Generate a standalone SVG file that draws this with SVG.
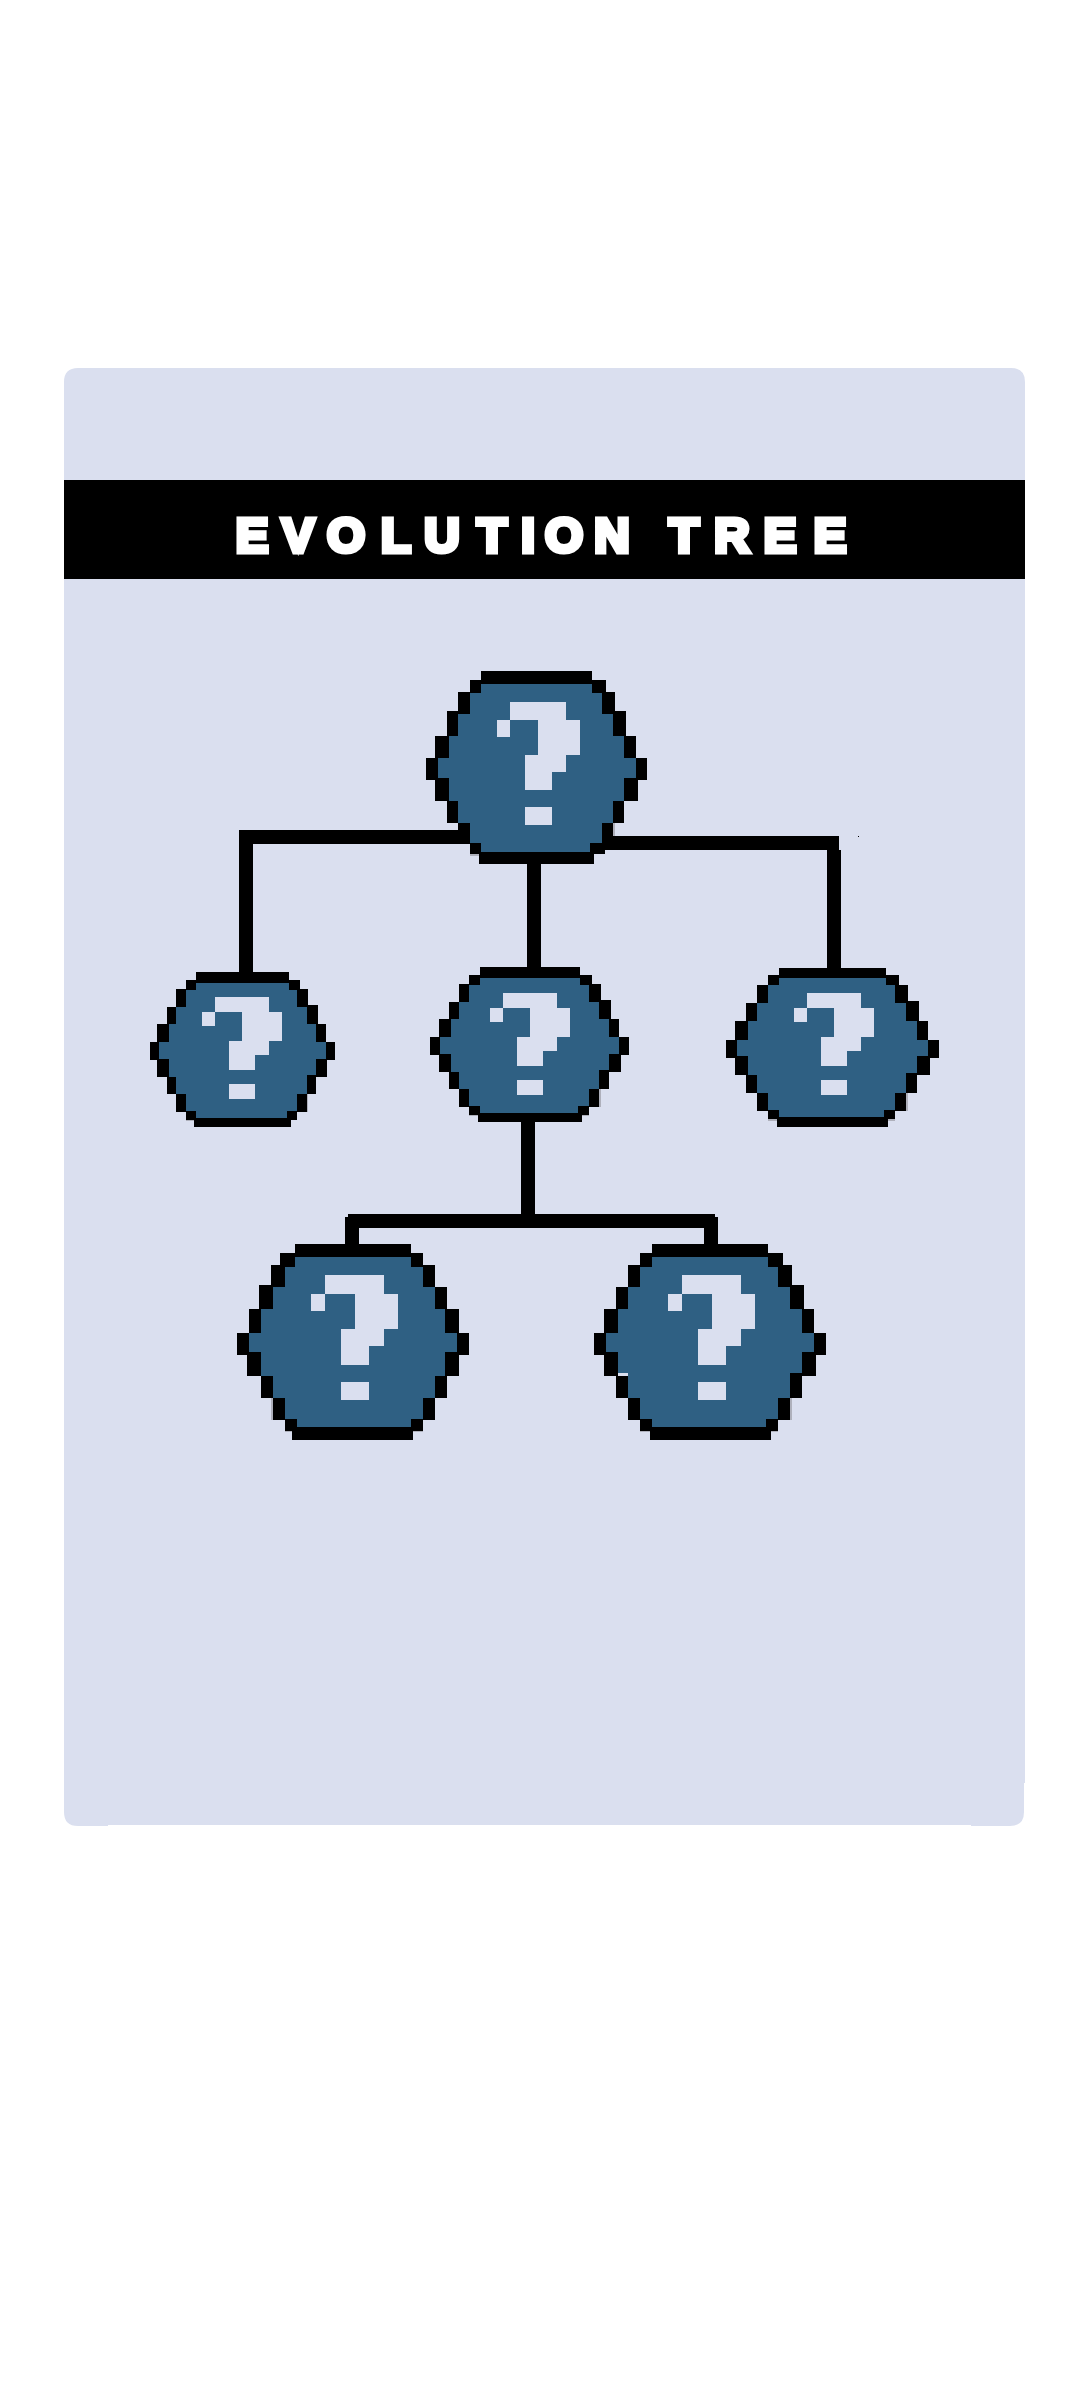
<svg xmlns="http://www.w3.org/2000/svg" width="1080" height="2400" viewBox="0 0 1080 2400">
<style>
.k{fill:#000;shape-rendering:crispEdges}
.b{fill:#2f6083;shape-rendering:crispEdges}
.p{fill:#dadfef;shape-rendering:crispEdges}
.g{fill:#aeb0bb;shape-rendering:crispEdges}
.t{font-family:"Liberation Sans",Arial,sans-serif;font-weight:700;font-size:49px;fill:#fff;stroke:#fff;stroke-width:5px;stroke-linejoin:miter;text-anchor:middle}
</style>
<rect width="1080" height="2400" fill="#fff"/>
<path id="panel" fill="#dadfef" d="M78 368H1011Q1025 368 1025 382V1783H1024V1812Q1024 1826 1010 1826H971V1825H108V1826H78Q64 1826 64 1812V382Q64 368 78 368Z"/>
<g id="title">
<rect class="k" x="64" y="480" width="961" height="99"/>
<text class="t" y="551.5" x="252 298 346 396 442 492 528 564 612 648 684 732 780 830">EVOLUTION TREE</text>
</g>
<g id="connectors">
<rect class="k" x="239" y="830" width="232" height="14"/>
<rect class="k" x="239" y="830" width="14" height="143"/>
<rect class="k" x="601" y="836" width="238" height="14"/>
<rect class="k" x="827" y="850" width="14" height="119"/>
<rect class="k" x="858" y="836" width="1" height="1"/>
<rect class="k" x="527" y="862" width="14" height="107"/>
<rect class="k" x="521" y="1120" width="14" height="96"/>
<rect class="k" x="348" y="1214" width="367" height="14"/>
<rect class="k" x="345" y="1217" width="14" height="28"/>
<rect class="k" x="704" y="1217" width="14" height="28"/>
</g>
<g id="node-root" transform="translate(400 650) scale(.33333)">
<path class="g" d="M639 519H645V558H639ZM210 612H237V618H210Z"/>
<path class="b" d="M243 102H576V129H606V192H639V258H672V324H708V387H672V453H639V519H606V579H570V606H243V579H210V519H174V453H147V387H114V324H147V258H174V192H210V129H243Z"/>
<path class="k" d="M243 63H576V102H243ZM210 90H243V129H210ZM576 90H618V129H576ZM174 126H210V192H174ZM606 126H645V192H606ZM141 183H174V258H141ZM639 183H678V258H639ZM105 258H147V324H105ZM672 258H708V324H672ZM78 324H114V390H78ZM708 324H741V390H708ZM105 384H147V453H105ZM672 384H714V453H672ZM141 453H174V519H141ZM639 453H672V519H639ZM174 519H210V579H174ZM606 519H639V579H606ZM210 579H243V612H210ZM570 579H615V612H570ZM237 606H582V642H237Z"/>
<path class="p" d="M330 156H498V210H540V315H498V366H456V420H375V315H414V210H330ZM291 210H330V261H291ZM375 471H456V525H375Z"/>
</g>
<g id="node-left" transform="translate(130 940) scale(.33333)">
<path class="g" d="M531 462H534V516H531ZM168 540H192V543H168Z"/>
<path class="b" d="M198 129H477V150H501V201H531V252H558V306H588V357H558V411H531V462H501V513H471V534H198V513H168V462H138V411H117V357H87V306H117V252H138V201H168V150H198Z"/>
<path class="k" d="M198 96H477V129H198ZM168 120H198V150H168ZM477 120H510V150H477ZM138 147H168V201H138ZM501 147H534V201H501ZM111 201H138V252H111ZM531 195H564V252H531ZM81 252H117V306H81ZM558 252H588V306H558ZM60 306H87V360H60ZM588 306H615V360H588ZM81 357H117V411H81ZM558 357H591V411H558ZM111 411H138V462H111ZM531 405H558V462H531ZM138 462H168V516H138ZM501 462H531V516H501ZM168 513H198V540H168ZM471 513H501V540H471ZM192 534H483V561H192Z"/>
<path class="p" d="M255 171H417V216H456V303H417V345H375V390H297V303H336V216H255ZM216 216H255V258H216ZM297 432H375V477H297Z"/>
</g>
<g id="node-middle" transform="translate(420 940) scale(.33333)">
<path class="g" d="M537 447H543V501H537ZM147 525H174V528H147ZM486 525H507V528H486Z"/>
<path class="b" d="M180 114H480V135H507V186H537V237H567V291H597V342H567V396H537V447H507V498H474V519H180V498H147V447H117V396H93V342H60V291H93V237H117V186H147V135H180Z"/>
<path class="k" d="M180 81H480V114H180ZM147 105H180V135H147ZM480 105H516V135H480ZM117 132H147V186H117ZM507 132H543V186H507ZM87 186H117V237H87ZM537 180H573V237H537ZM57 237H93V291H57ZM567 237H597V291H567ZM30 291H60V345H30ZM597 291H627V345H597ZM57 342H93V396H57ZM567 342H603V396H567ZM87 396H117V447H87ZM537 390H567V447H537ZM117 447H147V501H117ZM507 447H537V501H507ZM147 498H180V525H147ZM474 498H507V525H474ZM174 519H486V546H174Z"/>
<path class="p" d="M249 159H411V204H450V291H411V333H369V378H291V291H330V204H249ZM210 204H249V246H210ZM291 420H369V465H291Z"/>
</g>
<g id="node-right" transform="translate(720 940) scale(.33333)">
<path class="g" d="M558 459H564V513H558ZM144 537H171V543H144ZM504 537H525V543H504Z"/>
<path class="b" d="M177 114H498V135H525V189H558V243H591V300H624V351H591V405H558V459H525V510H492V531H177V510H144V459H111V405H84V351H51V300H84V243H111V189H144V135H177Z"/>
<path class="k" d="M177 84H498V114H177ZM144 105H177V135H144ZM498 105H537V135H498ZM111 135H144V189H111ZM525 135H564V189H525ZM78 189H111V243H78ZM558 183H597V243H558ZM45 243H84V300H45ZM591 243H624V300H591ZM18 300H51V354H18ZM624 300H657V354H624ZM45 348H84V405H45ZM591 348H630V405H591ZM78 405H111V459H78ZM558 399H591V459H558ZM111 459H144V513H111ZM525 459H558V513H525ZM144 510H177V537H144ZM492 510H525V537H492ZM171 531H504V561H171Z"/>
<path class="p" d="M261 159H423V204H462V291H423V333H381V378H303V291H342V204H261ZM222 204H261V246H222ZM303 420H381V465H303Z"/>
</g>
<g id="node-child-left" transform="translate(220 1200) scale(.33333)">
<path class="g" d="M153 594H159V660H153ZM195 690H216V696H195ZM579 690H609V696H579Z"/>
<path class="b" d="M225 171H573V201H609V261H645V327H675V399H711V459H675V528H645V594H609V657H573V681H231V657H195V594H159V528H123V459H87V399H123V327H159V261H195V201H225Z"/>
<path class="k" d="M225 132H573V171H225ZM180 159H225V201H180ZM573 159H609V201H573ZM153 195H195V261H153ZM609 195H645V261H609ZM117 255H159V327H117ZM645 261H681V327H645ZM87 327H123V399H87ZM675 327H717V399H675ZM51 399H87V465H51ZM711 399H747V465H711ZM81 456H123V528H81ZM675 456H717V528H675ZM123 528H159V594H123ZM645 528H681V594H645ZM159 594H195V660H159ZM609 594H645V660H609ZM195 657H231V693H195ZM573 657H609V693H573ZM216 681H579V720H216Z"/>
<path class="p" d="M315 225H492V282H534V387H492V438H447V495H363V387H405V282H315ZM273 282H315V333H273ZM363 546H447V600H363Z"/>
</g>
<g id="node-child-right" transform="translate(580 1200) scale(.33333)">
<path class="g" d="M630 594H636V660H630ZM180 690H210V696H180ZM573 690H594V696H573Z"/>
<path class="b" d="M216 171H564V201H594V261H630V327H666V399H702V459H666V519H630V594H594V657H558V681H216V657H180V594H144V519H114V459H78V399H114V327H144V261H180V201H216Z"/>
<path class="k" d="M216 132H564V171H216ZM180 159H216V201H180ZM564 159H609V201H564ZM144 195H180V261H144ZM594 195H636V261H594ZM108 261H144V327H108ZM630 255H672V327H630ZM72 327H114V399H72ZM666 327H702V399H666ZM42 399H78V465H42ZM702 399H738V465H702ZM72 456H114V528H72ZM666 456H708V528H666ZM108 528H144V594H108ZM630 519H666V594H630ZM144 594H180V660H144ZM594 594H630V660H594ZM180 657H216V693H180ZM558 657H594V693H558ZM210 681H573V720H210Z"/>
<path class="p" d="M306 225H483V282H525V387H483V438H438V495H354V387H396V282H306ZM264 282H306V333H264ZM354 546H438V600H354Z"/>
</g>
</svg>
